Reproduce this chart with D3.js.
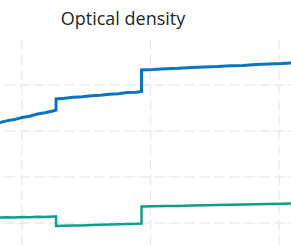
<!doctype html>
<html>
  <head>
    <meta charset="utf-8">
    <title>Optical density</title>
    <style type="text/css">
		body{
			margin: 0px;
			background: #ffffff;
		}
		#chart{
			display: block;
		}
		.title{
			font-family: "Open Sans", "Noto Sans", sans-serif;
			font-size: 18px;
			fill: #262626;
		}
    </style>
    <script src="https://d3js.org/d3.v7.min.js"></script>
  </head>
  <body>
    <svg id="chart" width="291" height="245"></svg>
    <script type="text/javascript">
		// data (x: time, y: optical density)
		var time = [8.2, 8.8, 9.4, 10.0, 10.6, 11.2, 11.8, 12.4, 12.65,
			12.65, 13.3, 14.0, 14.7, 15.4, 16.1, 16.8, 17.5, 18.2, 18.9, 19.3,
			19.3, 20.2, 21.2, 22.2, 23.2, 24.2, 25.2, 26.2, 27.2, 28.2, 29.2, 30.2, 31.0];
		var blueOD = [1.589, 1.610, 1.624, 1.647, 1.660, 1.684, 1.699, 1.718, 1.728,
			1.848, 1.855, 1.866, 1.872, 1.884, 1.888, 1.900, 1.906, 1.918, 1.922, 1.929,
			2.163, 2.168, 2.177, 2.181, 2.190, 2.195, 2.200, 2.209, 2.213, 2.222, 2.228, 2.233, 2.240];
		var tealOD = [0.558, 0.563, 0.560, 0.565, 0.563, 0.567, 0.566, 0.570, 0.571,
			0.467, 0.469, 0.472, 0.474, 0.478, 0.481, 0.484, 0.487, 0.490, 0.492, 0.495,
			0.679, 0.681, 0.684, 0.686, 0.689, 0.692, 0.695, 0.698, 0.700, 0.703, 0.706, 0.708, 0.711];
		var gridX = [10, 20, 30];
		var gridY = [0.5, 1.0, 1.5, 2.0];
		var titleText = "Optical density";

		var width = 291;
		var height = 245;
		var plotTop = 40;

		var svg = d3.select("#chart");

		// the visible window is a crop of a larger plot
		var scaleX = d3.scaleLinear()
			.domain([10, 30])
			.range([22, 279]);
		var scaleY = d3.scaleLinear()
			.domain([0.5, 2.0])
			.range([223, 85]);

		//grid
		var grid = svg.append("g");
		grid.selectAll("line.gx")
			.data(gridX)
			.enter().append("line")
			.attr("class", "gx")
			.attr("x1", function(d){ return scaleX(d); })
			.attr("x2", function(d){ return scaleX(d); })
			.attr("y1", plotTop)
			.attr("y2", height)
			.attr("stroke", "#ebecee")
			.attr("stroke-width", 1.5)
			.attr("stroke-dasharray", "10,5");
		grid.selectAll("line.gy")
			.data(gridY)
			.enter().append("line")
			.attr("class", "gy")
			.attr("x1", 0)
			.attr("x2", width)
			.attr("y1", function(d){ return scaleY(d); })
			.attr("y2", function(d){ return scaleY(d); })
			.attr("stroke", "#ebecee")
			.attr("stroke-width", 1.5)
			.attr("stroke-dasharray", "11,4")
			.attr("stroke-dashoffset", -4);

		//lines
		var line = d3.line()
			.x(function(d, i){ return scaleX(time[i]); })
			.y(function(d){ return scaleY(d); });

		svg.append("path")
			.attr("d", line(tealOD))
			.attr("fill", "none")
			.attr("stroke", "#0f9e8a")
			.attr("stroke-width", 2.5);
		svg.append("path")
			.attr("d", line(blueOD))
			.attr("fill", "none")
			.attr("stroke", "#0b74bf")
			.attr("stroke-width", 3);

		//title
		svg.append("text")
			.attr("class", "title")
			.attr("x", 123)
			.attr("y", 25)
			.attr("text-anchor", "middle")
			.text(titleText);
    </script>
  </body>
</html>
